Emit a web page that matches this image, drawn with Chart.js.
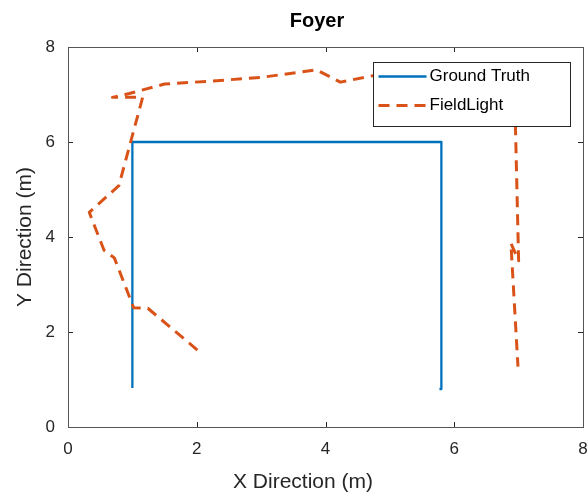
<!DOCTYPE html>
<html lang="en">
<head>
  <meta charset="UTF-8">
  <title>Foyer</title>
  <script src="https://cdn.jsdelivr.net/npm/chart.js"></script>
  <style>
    body {
      margin: 0;
      background: #fff;
    }
    canvas {
      display: block;
    }
  </style>
</head>
<body>

  <canvas id="chart" width="587" height="492"></canvas>

  <script>
    // Ground truth path
    const gtX = [1.0, 1.0, 5.8, 5.8, 5.77];
    const gtY = [0.82, 6.0, 6.0, 0.8, 0.8];

    // FieldLight estimate
    const flX = [2.01, 1.24, 1.02, 0.72, 0.56, 0.33, 0.79, 1.16, 0.69, 0.95, 1.5, 2.2, 3.0, 3.86, 4.23, 4.75, 6.93, 7.0, 6.88, 6.99];
    const flY = [1.62, 2.5, 2.51, 3.56, 3.72, 4.52, 5.08, 6.94, 6.94, 7.02, 7.22, 7.28, 7.36, 7.52, 7.26, 7.4, 7.52, 3.5, 3.87, 1.27];

    const xTicks = [0, 2, 4, 6, 8];
    const yTicks = [0, 2, 4, 6, 8];

    const chartTitle = 'Foyer';
    const xLabel = 'X Direction (m)';
    const yLabel = 'Y Direction (m)';

    const FONT = '"Liberation Sans", Arial, Helvetica, sans-serif';
    const AXIS_COLOR = '#262626';

    const toPoints = (xs, ys) => xs.map((x, i) => ({ x: x, y: ys[i] }));

    // box around the axes + inward ticks on all four sides
    const framePlugin = {
      id: 'frame',
      afterDatasetsDraw(chart) {
        const { ctx, chartArea: a, scales } = chart;
        const len = 5;
        ctx.save();
        ctx.strokeStyle = AXIS_COLOR;
        ctx.lineWidth = 1;
        ctx.beginPath();
        xTicks.forEach(v => {
          const px = Math.round(scales.x.getPixelForValue(v)) + 0.5;
          ctx.moveTo(px, a.bottom); ctx.lineTo(px, a.bottom - len);
          ctx.moveTo(px, a.top); ctx.lineTo(px, a.top + len);
        });
        yTicks.forEach(v => {
          const py = Math.round(scales.y.getPixelForValue(v)) + 0.5;
          ctx.moveTo(a.left, py); ctx.lineTo(a.left + len, py);
          ctx.moveTo(a.right, py); ctx.lineTo(a.right - len, py);
        });
        ctx.stroke();
        ctx.strokeStyle = '#555';
        ctx.strokeRect(Math.round(a.left) + 0.5, Math.round(a.top) + 0.5,
          Math.round(a.right - a.left), Math.round(a.bottom - a.top));
        ctx.restore();
      }
    };

    // title and x label, placed where the original figure has them
    const labelsPlugin = {
      id: 'labels',
      afterDraw(chart) {
        const ctx = chart.ctx;
        ctx.save();
        ctx.textAlign = 'center';
        ctx.textBaseline = 'alphabetic';
        ctx.fillStyle = '#000';
        ctx.font = 'bold 20px ' + FONT;
        ctx.fillText(chartTitle, 317, 26.5);
        ctx.fillStyle = AXIS_COLOR;
        ctx.font = '21px ' + FONT;
        ctx.fillText(xLabel, 303, 488);
        ctx.restore();
      }
    };

    // legend box inside the plot, top right (drawn over the lines)
    const boxLegend = {
      id: 'boxLegend',
      afterDatasetsDraw(chart) {
        const ctx = chart.ctx;
        const left = 373.5, top = 62.5, w = 197, h = 64;
        ctx.save();
        ctx.fillStyle = '#fff';
        ctx.fillRect(left, top, w, h);
        ctx.strokeStyle = '#262626';
        ctx.lineWidth = 1;
        ctx.strokeRect(left, top, w, h);
        ctx.font = '17px ' + FONT;
        ctx.textBaseline = 'middle';
        chart.data.datasets.forEach((ds, i) => {
          const y = top + 14 + i * 29;
          ctx.strokeStyle = ds.borderColor;
          ctx.lineWidth = ds.borderWidth;
          ctx.setLineDash(ds.borderDash || []);
          ctx.beginPath();
          ctx.moveTo(left + 5, y);
          ctx.lineTo(left + 53, y);
          ctx.stroke();
          ctx.setLineDash([]);
          ctx.fillStyle = '#000';
          ctx.fillText(ds.label, left + 56, y);
        });
        ctx.restore();
      }
    };

    new Chart(document.getElementById('chart'), {
      type: 'scatter',
      data: {
        datasets: [
          {
            label: 'Ground Truth',
            data: toPoints(gtX, gtY),
            showLine: true,
            borderColor: '#0072BD',
            borderWidth: 2.3,
            borderJoinStyle: 'round',
            pointRadius: 0,
            order: 1
          },
          {
            label: 'FieldLight',
            data: toPoints(flX, flY),
            showLine: true,
            borderColor: '#D95319',
            borderWidth: 3,
            borderDash: [11, 7],
            borderJoinStyle: 'round',
            pointRadius: 0,
            order: 0
          }
        ]
      },
      options: {
        responsive: false,
        devicePixelRatio: 1,
        animation: false,
        layout: { padding: { left: 0, right: 4, top: 47, bottom: 0 } },
        plugins: {
          legend: { display: false },
          tooltip: { enabled: false },
          title: { display: false }
        },
        scales: {
          x: {
            type: 'linear',
            min: 0,
            max: 8,
            afterBuildTicks: s => { s.ticks = xTicks.map(v => ({ value: v })); },
            afterFit: s => { s.height = 65; s.paddingLeft = 0; s.paddingRight = 0; },
            grid: { display: false },
            border: { display: false },
            ticks: { color: AXIS_COLOR, padding: 4, font: { family: FONT, size: 17 } },
            title: { display: false }
          },
          y: {
            type: 'linear',
            min: 0,
            max: 8,
            afterBuildTicks: s => { s.ticks = yTicks.map(v => ({ value: v })); },
            afterFit: s => { s.width = 68; s.paddingTop = 0; s.paddingBottom = 0; },
            grid: { display: false },
            border: { display: false },
            ticks: { color: AXIS_COLOR, padding: 5, font: { family: FONT, size: 17 } },
            title: {
              display: true,
              text: yLabel,
              color: AXIS_COLOR,
              font: { family: FONT, size: 21 },
              padding: { top: 13, bottom: 0 }
            }
          }
        }
      },
      plugins: [framePlugin, boxLegend, labelsPlugin]
    });
  </script>
</body>
</html>
